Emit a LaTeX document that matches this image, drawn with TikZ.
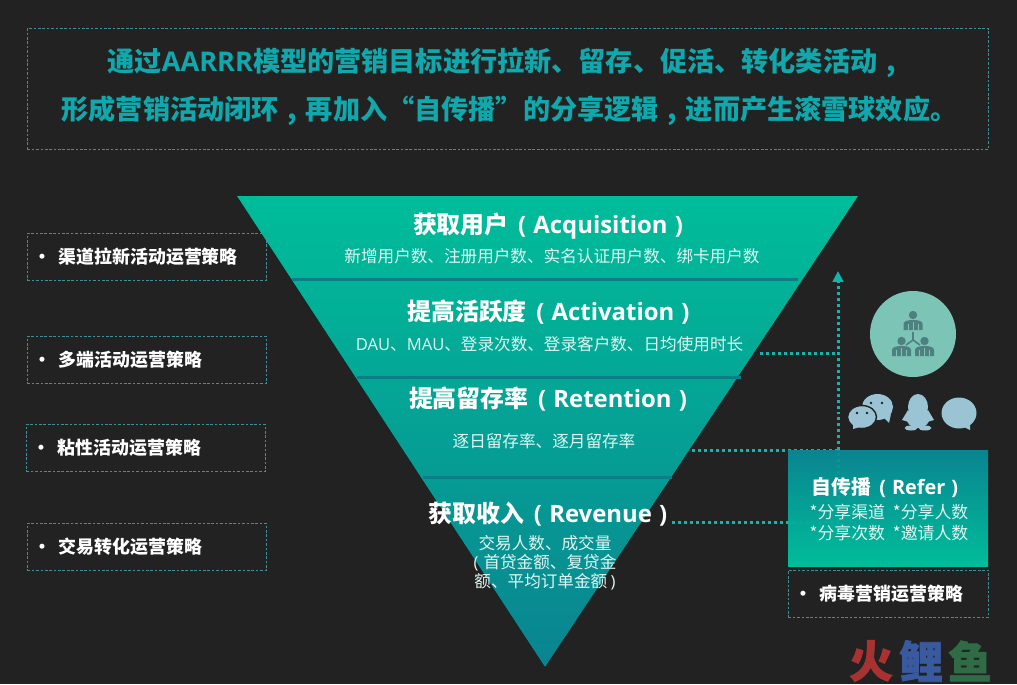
\documentclass[tikz,border=0pt]{standalone}
\usepackage{fontspec}
\setmainfont{Noto Sans CJK SC}
\newfontfamily\enfont{Open Sans}
\newfontfamily\markfam[BoldFeatures={FakeBold=1.6}]{Noto Sans CJK SC}
\usetikzlibrary{arrows.meta}
\definecolor{bgdark}{HTML}{222222}
\definecolor{tealtop}{HTML}{00BD9A}
\definecolor{tealend}{HTML}{0A8490}
\definecolor{tealline}{HTML}{0A7F85}
\definecolor{tealtitle}{HTML}{10A8AC}
\definecolor{dashteal}{HTML}{3F8F96}
\definecolor{dotteal}{HTML}{12B5AE}
\definecolor{iconmint}{HTML}{7CC4B6}
\definecolor{icondark}{HTML}{4E8080}
\definecolor{iconblue}{HTML}{9AC4D4}
\definecolor{markred}{HTML}{A83232}
\definecolor{markblue}{HTML}{3A5AA0}
\definecolor{markgreen}{HTML}{2F6B45}
\tikzset{
	dashbox/.style={draw=dashteal, line width=0.4pt, dash pattern=on 1.5pt off 1pt},
	stratbox/.style={dashbox, anchor=north west, minimum width=4.78cm, minimum height=0.94cm, inner xsep=0.12cm, inner ysep=0pt, text width=4.54cm, align=left, text=white, font=\fontsize{10.2}{12}\selectfont\bfseries},
	headtext/.style={text=white, inner sep=0pt, font=\fontsize{13.6}{16}\selectfont\bfseries},
	subtext/.style={text=white!88!tealtop, inner sep=0pt, align=center, font=\fontsize{9.45}{10.8}\selectfont},
	titletext/.style={text=tealtitle, inner sep=0pt, font=\fontsize{15.45}{18}\selectfont\bfseries},
	dotline/.style={draw=dotteal, line width=1.7pt, dash pattern=on 1.7pt off 1.7pt},
	sepline/.style={draw=tealline, line width=1.7pt},
	markfont/.style={inner sep=0pt, font=\fontsize{25}{28}\selectfont\markfam\bfseries}
}
\def\en#1{{\enfont #1}}
\def\zhc{\makebox[1em]{,}}
\def\pen#1{\hspace{0.4em}{\enfont(\hspace{0.3em}#1\hspace{0.3em})}}
\def\personicon(#1){
	\begin{scope}[shift={(#1)}]
		\fill[icondark] (0,0) circle (4.2);
		\fill[icondark] (-9.5,15) -- (-9.5,9) .. controls (-9.5,6) and (-5,5) .. (0,5) .. controls (5,5) and (9.5,6) .. (9.5,9) -- (9.5,15) -- cycle;
		\draw[iconmint, line width=0.3pt] (-5,9) -- (-5,15) (0,7) -- (0,15) (5,9) -- (5,15);
	\end{scope}
}

\begin{document}
\begin{tikzpicture}[x=0.02cm, y=-0.02cm]
	%%%%% BACKGROUND %%%%%
	\fill[bgdark] (0, 0) rectangle (1017, 684);
	\useasboundingbox (0, 0) rectangle (1017, 684);

	%%%%% TITLE %%%%%
	\node[dashbox, anchor=north west, minimum width=19.22cm, minimum height=2.42cm] (titlebox) at (27, 28) {};
	\node[titletext] (titleone) at (506, 62.5) {通过\en{AARRR}模型的营销目标进行拉新、留存、促活、转化类活动\zhc};
	\node[titletext] (titletwo) at (509.5, 110.5) {形成营销活动闭环\zhc 再加入“自传播”的分享逻辑\zhc 进而产生滚雪球效应。};

	%%%%% CONNECTORS %%%%%
	\coordinate (actend) at (760, 353);
	\coordinate (retend) at (692, 450);
	\coordinate (revend) at (672, 522);
	\coordinate (spine) at (838, 522);
	\coordinate (spinetop) at (838, 271);
	\draw[dotline, -{Triangle[length=6.2pt, width=6pt]}] (spine) -- (spinetop);
	\draw[dotline] (actend) -- (spine |- actend);
	\draw[dotline] (retend) -- (spine |- retend);
	\draw[dotline] (revend) -- (spine);

	%%%%% FUNNEL %%%%%
	\fill[top color=tealtop, bottom color=tealend] (237, 196) -- (858, 196) -- (545, 667) -- cycle;
	\draw[sepline] (292, 279) -- (798, 279);
	\draw[sepline] (357, 377) -- (741, 377);
	\draw[sepline] (423, 477) -- (672, 477);

	\node[headtext] (acqhead) at (548, 226) {获取用户\pen{Acquisition}};
	\node[subtext] (acqsub) at (552, 256.5) {新增用户数、注册用户数、实名认证用户数、绑卡用户数};
	\node[headtext] (acthead) at (548.5, 312) {提高活跃度\pen{Activation}};
	\node[subtext] (actsub) at (549.5, 344.5) {\en{DAU}、\en{MAU}、登录次数、登录客户数、日均使用时长};
	\node[headtext] (rethead) at (548, 399) {提高留存率\pen{Retention}};
	\node[subtext] (retsub) at (544, 441) {逐日留存率、逐月留存率};
	\node[headtext] (revhead) at (548, 514) {获取收入\pen{Revenue}};
	\node[subtext] (revsub) at (545, 563) {交易人数、成交量\\\en{(}\hspace{0.3em}首贷金额、复贷金\\额、平均订单金额\hspace{0.2em}\en{)}};

	%%%%% LEFT BOXES %%%%%
	\node[stratbox] (chanbox) at (27, 233) {•\hspace{0.41em}渠道拉新活动运营策略};
	\node[stratbox] (multibox) at (27, 336) {•\hspace{0.41em}多端活动运营策略};
	\node[stratbox] (stickbox) at (26, 424) {•\hspace{0.41em}粘性活动运营策略};
	\node[stratbox] (tradebox) at (27, 523) {•\hspace{0.41em}交易转化运营策略};

	%%%%% REFER %%%%%
	\fill[top color=tealend, bottom color=tealtop] (788, 450) rectangle (988, 566);
	\draw[dotline, opacity=0.22] (spine) -- (spine |- retend);
	\draw[dotline, opacity=0.22] (788, 522) -- (spine);
	\node[text=white, inner sep=0pt, font=\fontsize{11.3}{14}\selectfont\bfseries] (referhead) at (885, 487.5) {自传播\pen{Refer}};
	\node[subtext, font=\fontsize{9.6}{11.9}\selectfont] (refersub) at (889, 522.5) {*分享渠道\hspace{0.47em}*分享人数\\*分享次数\hspace{0.47em}*邀请人数};
	\node[stratbox, minimum width=4cm, text width=3.76cm] (virusbox) at (788, 570) {•\hspace{0.41em}病毒营销运营策略};

	%%%%% ICONS %%%%%
	\fill[iconmint] (913, 334) circle (43);
	\personicon(913, 315)
	\personicon(901.5, 341)
	\personicon(924.5, 341)
	\draw[icondark, line width=0.9pt] (913, 332) -- (913, 340) -- (906, 345) (913, 340) -- (920, 345);

	\fill[iconblue] (877.5, 407) ellipse (15.5 and 13);
	\fill[iconblue] (884, 418) -- (889, 423) -- (891, 414) -- cycle;
	\fill[iconblue, draw=bgdark, line width=0.8pt] (862, 417) ellipse (14.5 and 11.5);
	\fill[iconblue] (853, 425) -- (853, 429) -- (860, 427) -- cycle;
	\foreach \eyex/\eyey in {871/403, 882/403, 857/413, 867/413}
		\fill[bgdark] (\eyex, \eyey) circle (1.4);

	\fill[iconblue] (918, 407) ellipse (10 and 13);
	\fill[iconblue] (918, 417) ellipse (12 and 11);
	\fill[iconblue] (908, 410) -- (902, 420) -- (909, 422) -- cycle;
	\fill[iconblue] (928, 410) -- (934, 420) -- (927, 422) -- cycle;
	\fill[iconblue] (911, 428) ellipse (6.5 and 2.5);
	\fill[iconblue] (925, 428) ellipse (6.5 and 2.5);

	\fill[iconblue] (959, 413) ellipse (17.5 and 15.5);
	\fill[iconblue] (962, 426) -- (970, 430) -- (970, 423) -- cycle;

	%%%%% MARK %%%%%
	\node[markfont, text=markred] (markone) at (871, 661) {火};
	\node[markfont, text=markblue] (marktwo) at (921, 661) {鲤};
	\node[markfont, text=markgreen] (markthree) at (970, 661) {鱼};
\end{tikzpicture}
\end{document}
